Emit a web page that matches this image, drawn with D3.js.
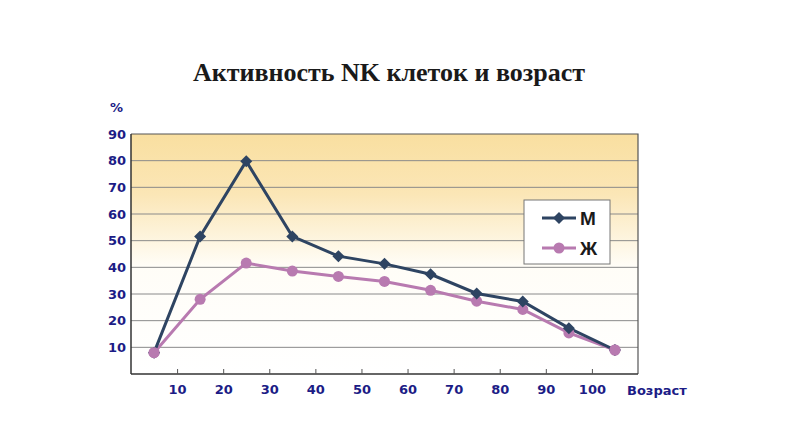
<html>
<script src="https://d3js.org/d3.v7.min.js"></script>
<body style="margin:0;background:#fff">
<svg width="787" height="428"></svg>
<script>
// ages (category midpoints) and activity values, %
const ages = [5, 15, 25, 35, 45, 55, 65, 75, 85, 95, 105];
const male = [8, 51.6, 79.8, 51.6, 44.2, 41.3, 37.4, 30.2, 27.2, 17.2, 9];
const female = [8, 28, 41.6, 38.6, 36.6, 34.7, 31.4, 27.3, 24.2, 15.4, 9];
const xTicks = [10, 20, 30, 40, 50, 60, 70, 80, 90, 100];
const yTicks = [10, 20, 30, 40, 50, 60, 70, 80, 90];
const seriesNames = ["М", "Ж"];

const svg = d3.select("svg");
const plotL = 131, plotR = 638, plotT = 134, plotB = 374;
const x = d3.scaleLinear().domain([0, 110]).range([plotL, plotR]);
const y = d3.scaleLinear().domain([0, 90]).range([plotB, plotT]);
const navy = "#1c1c86";

//------------------------background------------------------//
const grad = svg.append("defs").append("linearGradient")
  .attr("id", "bg").attr("x1", 0).attr("y1", 0).attr("x2", 0).attr("y2", 1);
grad.append("stop").attr("offset", "0%").attr("stop-color", "#f9dfa0");
grad.append("stop").attr("offset", "25%").attr("stop-color", "#fbe6b6");
grad.append("stop").attr("offset", "55%").attr("stop-color", "#fffdf7");
grad.append("stop").attr("offset", "100%").attr("stop-color", "#ffffff");

svg.append("rect")
  .attr("x", plotL).attr("y", plotT)
  .attr("width", plotR - plotL).attr("height", plotB - plotT)
  .attr("fill", "url(#bg)");

// title
svg.append("text")
  .attr("x", 389).attr("y", 81)
  .attr("text-anchor", "middle")
  .style("font-family", "Liberation Serif, Times New Roman, serif")
  .style("font-weight", "bold")
  .style("font-size", "26px")
  .attr("fill", "#1a1a1a")
  .text("Активность NK клеток и возраст");

//------------------------grid & axes------------------------//
svg.append("g").selectAll("line")
  .data(yTicks.slice(0, -1))
  .join("line")
  .attr("x1", plotL).attr("x2", plotR)
  .attr("y1", d => y(d)).attr("y2", d => y(d))
  .attr("stroke", "#8a8a8a").attr("stroke-width", 1);

// frame top/right
svg.append("path")
  .attr("d", `M${plotL},${plotT}H${plotR}V${plotB}`)
  .attr("fill", "none").attr("stroke", "#555").attr("stroke-width", 1.2);

const yAxis = svg.append("g")
  .attr("transform", `translate(${plotL},0)`)
  .call(d3.axisLeft(y).tickValues(yTicks).tickSize(0).tickPadding(5));
const xAxis = svg.append("g")
  .attr("transform", `translate(0,${plotB})`)
  .call(d3.axisBottom(x).tickValues(xTicks).tickSize(-5).tickPadding(11));

[yAxis, xAxis].forEach(a => {
  a.select(".domain").attr("stroke", "#333").attr("stroke-width", 1.5);
  a.selectAll(".tick line").attr("stroke", "#555");
  a.selectAll("text")
    .attr("fill", navy)
    .style("font-family", "DejaVu Sans, sans-serif")
    .style("font-weight", "bold")
    .style("font-size", "13px");
});
yAxis.select(".domain").attr("d", `M0,${plotT}V${plotB}`);
xAxis.select(".domain").attr("d", `M${plotL},0H${plotR}`);

svg.append("text")
  .attr("x", 110).attr("y", 112)
  .attr("fill", navy)
  .style("font-family", "DejaVu Sans, sans-serif")
  .style("font-weight", "bold")
  .style("font-size", "13px")
  .text("%");

svg.append("text")
  .attr("x", 627).attr("y", 395)
  .attr("fill", navy)
  .style("font-family", "DejaVu Sans, sans-serif")
  .style("font-weight", "bold")
  .style("font-size", "13px")
  .text("Возраст");

//------------------------lines------------------------//
const line = d3.line()
  .x((d, i) => x(ages[i]))
  .y(d => y(d));

const fColor = "#b87ab0", mColor = "#2e4462";

svg.append("path").datum(female)
  .attr("d", line).attr("fill", "none")
  .attr("stroke", fColor).attr("stroke-width", 3);
svg.append("path").datum(male)
  .attr("d", line).attr("fill", "none")
  .attr("stroke", mColor).attr("stroke-width", 3);

const diamond = d3.symbol().type(d3.symbolSquare).size(72);

svg.append("g").selectAll("circle")
  .data(female)
  .join("circle")
  .attr("cx", (d, i) => x(ages[i]))
  .attr("cy", d => y(d))
  .attr("r", 5.5)
  .attr("fill", fColor);

svg.append("g").selectAll("path")
  .data(male)
  .join("path")
  .attr("d", diamond)
  .attr("transform", (d, i) => `translate(${x(ages[i])},${y(d)}) rotate(45)`)
  .attr("fill", mColor);

// female markers sit on top where the two series meet
[0, ages.length - 1].forEach(i => {
  svg.append("circle")
    .attr("cx", x(ages[i]))
    .attr("cy", y(female[i]))
    .attr("r", 5.5).attr("fill", fColor);
});

//------------------------legend------------------------//
const lg = svg.append("g").attr("transform", "translate(524,200)");
lg.append("rect")
  .attr("width", 86).attr("height", 64)
  .attr("fill", "#fff").attr("stroke", "#777").attr("stroke-width", 1);

const rows = [
  { name: seriesNames[0], color: mColor, yy: 18, shape: "d" },
  { name: seriesNames[1], color: fColor, yy: 48, shape: "c" }
];
rows.forEach(r => {
  lg.append("line")
    .attr("x1", 18).attr("x2", 52)
    .attr("y1", r.yy).attr("y2", r.yy)
    .attr("stroke", r.color).attr("stroke-width", 3);
  if (r.shape === "d") {
    lg.append("path").attr("d", diamond)
      .attr("transform", `translate(35,${r.yy}) rotate(45)`)
      .attr("fill", r.color);
  } else {
    lg.append("circle").attr("cx", 35).attr("cy", r.yy).attr("r", 5.5).attr("fill", r.color);
  }
  lg.append("text")
    .attr("x", 56).attr("y", r.yy + 7)
    .style("font-family", "Liberation Sans, Arial, sans-serif")
    .style("font-weight", "bold")
    .style("font-size", "19px")
    .attr("fill", "#1a1a1a")
    .text(r.name);
});
</script>
</body>
</html>
